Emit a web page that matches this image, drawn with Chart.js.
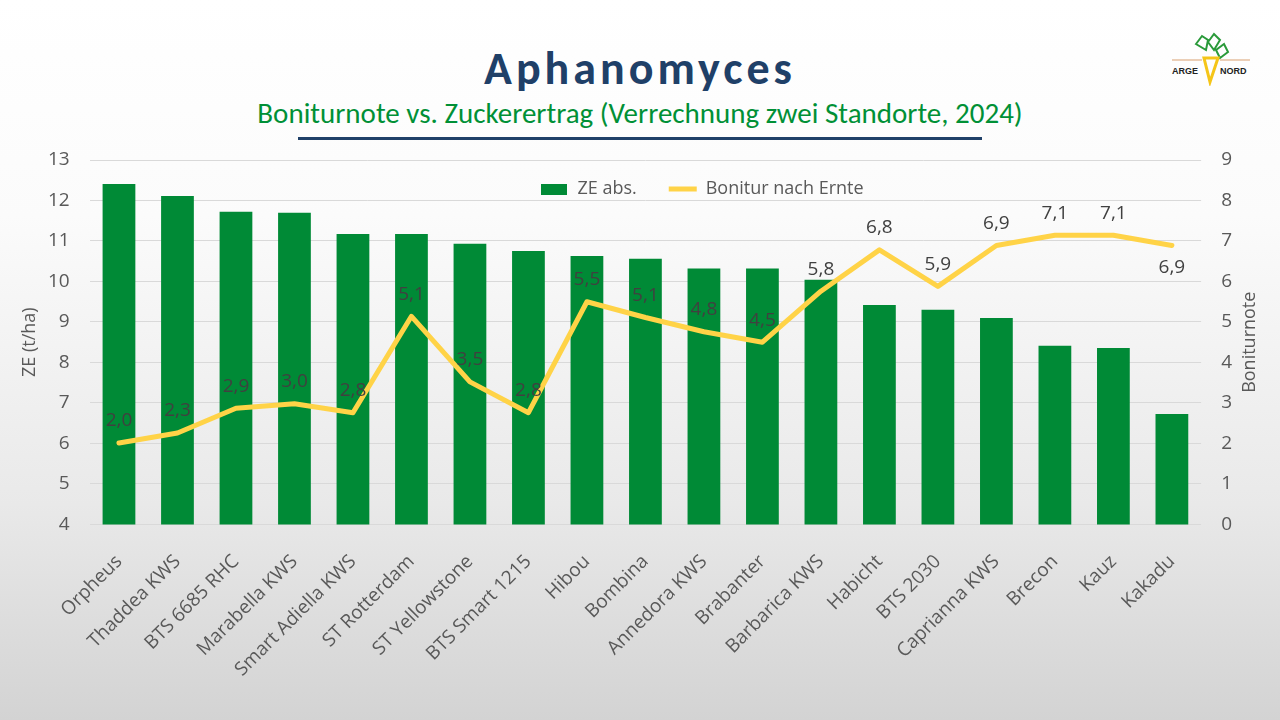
<!DOCTYPE html>
<html lang="de">
<head>
<meta charset="utf-8">
<title>Aphanomyces</title>
<script src="https://cdn.jsdelivr.net/npm/chart.js@4/dist/chart.umd.min.js"></script>
<style>
  html, body { margin: 0; padding: 0; }
  body { width: 1280px; height: 720px; overflow: hidden; }
  .folie {
    position: relative; width: 1280px; height: 720px;
    background: linear-gradient(to bottom, #ffffff 0%, #fbfbfb 30%, #e9e9e9 70%, #d3d3d3 100%);
    font-family: Carlito, Calibri, Lato, sans-serif;
  }
  .titel {
    position: absolute; left: 0; width: 1280px; top: 40px; text-align: center;
    font-size: 46px; font-weight: bold; color: #1f4068; letter-spacing: 4px;
  }
  .untertitel {
    position: absolute; left: 0; width: 1280px; top: 95px; text-align: center;
    font-size: 29px; color: #009036;
  }
  .linie { position: absolute; left: 298px; width: 684px; top: 137px; height: 3px; background: #1f4068; }
  .logo { position: absolute; left: 1168px; top: 30px; width: 86px; height: 56px; }
  .diagramm { position: absolute; left: 0; top: 100px; width: 1280px; height: 620px; }
</style>
</head>
<body>
<div class="folie">
  <div class="titel">Aphanomyces</div>
  <div class="untertitel">Boniturnote vs. Zuckerertrag (Verrechnung zwei Standorte, 2024)</div>
  <div class="linie"></div>
  <svg class="logo" viewBox="0 0 86 56">
    <path d="M28 14 L34 6 L40 10 L38 20 Z M40 12 L46 4 L52 10 L46 20 Z M48 20 L56 14 L60 22 L52 28 Z" fill="none" stroke="#2a9a3a" stroke-width="2"/>
    <path d="M36 28 L50 28 L42 52 Z" fill="none" stroke="#f5c518" stroke-width="3"/>
    <line x1="4" y1="30" x2="34" y2="30" stroke="#d9a070" stroke-width="1"/>
    <line x1="52" y1="30" x2="82" y2="30" stroke="#d9a070" stroke-width="1"/>
    <text x="4" y="44" font-size="9" font-weight="bold" fill="#222" font-family="Liberation Sans, sans-serif">ARGE</text>
    <text x="52" y="44" font-size="9" font-weight="bold" fill="#222" font-family="Liberation Sans, sans-serif">NORD</text>
  </svg>
  <div class="diagramm"><canvas id="graphique"></canvas></div>
</div>

<script>
// Sorten (Kategorien)
const sorten = ["Orpheus", "Thaddea KWS", "BTS 6685 RHC", "Marabella KWS", "Smart Adiella KWS",
  "ST Rotterdam", "ST Yellowstone", "BTS Smart 1215", "Hibou", "Bombina", "Annedora KWS",
  "Brabanter", "Barbarica KWS", "Habicht", "BTS 2030", "Caprianna KWS", "Brecon", "Kauz", "Kakadu"];
// Zuckerertrag absolut (t/ha)
const zeAbs = [12.41, 12.11, 11.72, 11.70, 11.17, 11.17, 10.93, 10.75, 10.63, 10.56, 10.32,
  10.32, 10.04, 9.42, 9.30, 9.10, 8.41, 8.36, 6.73];
// Bonitur nach Ernte
const bonitur = [2.01, 2.26, 2.87, 2.98, 2.76, 5.14, 3.52, 2.76, 5.50, 5.11, 4.76,
  4.50, 5.76, 6.78, 5.88, 6.89, 7.14, 7.14, 6.89];
// Achsen
const zeMin = 4, zeMax = 13;
const bonMin = 0, bonMax = 9;

const schrift = "'Open Sans', sans-serif";
const grau = "#595959";

// Legendensymbol für die Balken: flaches Rechteck
const balkenSymbol = document.createElement("canvas");
balkenSymbol.width = 26;
balkenSymbol.height = 11;
const bctx = balkenSymbol.getContext("2d");
bctx.fillStyle = "#008a36";
bctx.fillRect(0, 0, 26, 11);

// Legende in den Diagrammbereich schieben
const legendeVerschieben = {
  id: "legendeVerschieben",
  afterLayout(chart) {
    const lg = chart.legend;
    const dy = chart.chartArea.top - lg.top - 12;
    const dx = 702 - (lg.left + lg.right) / 2;
    lg.top += dy;
    lg.bottom += dy;
    lg.left += dx;
    lg.right += dx;
  }
};

// Werte über/unter den Punkten der Linie, Achsentitel
const boniturWerte = {
  id: "boniturWerte",
  afterDatasetsDraw(chart) {
    const ctx = chart.ctx;
    const meta = chart.getDatasetMeta(1);
    ctx.save();
    ctx.font = "19px " + schrift;
    ctx.fillStyle = "#404040";
    ctx.textAlign = "center";
    ctx.textBaseline = "middle";
    meta.data.forEach((pt, i) => {
      const unten = i === meta.data.length - 1;
      const y = unten ? pt.y + 22 : pt.y - 22;
      ctx.fillText(bonitur[i].toFixed(1).replace(".", ","), pt.x, y);
    });
    ctx.restore();
  },
  afterDraw(chart) {
    const ctx = chart.ctx;
    const mitte = (chart.chartArea.top + chart.chartArea.bottom) / 2;
    ctx.save();
    ctx.font = "18px " + schrift;
    ctx.fillStyle = grau;
    ctx.textAlign = "center";
    ctx.textBaseline = "middle";
    // links: ZE (t/ha)
    ctx.save();
    ctx.translate(30, mitte);
    ctx.rotate(-Math.PI / 2);
    ctx.fillText("ZE (t/ha)", 0, 0);
    ctx.restore();
    // rechts: Boniturnote, von unten nach oben
    ctx.translate(1250, mitte);
    ctx.rotate(-Math.PI / 2);
    ctx.fillText("Boniturnote", 0, 0);
    ctx.restore();
  }
};

const data = {
  labels: sorten,
  datasets: [{
    type: "bar",
    label: "ZE abs.",
    data: zeAbs,
    backgroundColor: "#008a36",
    yAxisID: "y",
    barPercentage: 0.56,
    categoryPercentage: 1,
    pointStyle: balkenSymbol,
    order: 2
  }, {
    type: "line",
    label: "Bonitur nach Ernte",
    data: bonitur,
    borderColor: "#ffd347",
    backgroundColor: "#ffd347",
    borderWidth: 5,
    borderCapStyle: "round",
    borderJoinStyle: "round",
    pointRadius: 0,
    pointStyle: "line",
    tension: 0,
    yAxisID: "y1",
    order: 1
  }]
};

const config = {
  data: data,
  options: {
    responsive: false,
    animation: false,
    layout: { padding: { top: 0, left: 28, right: 28, bottom: 21 } },
    plugins: {
      tooltip: { enabled: false },
      legend: {
        position: "top",
        align: "center",
        labels: {
          usePointStyle: true,
          pointStyleWidth: 28,
          boxHeight: 17,
          padding: 32,
          color: grau,
          font: { family: schrift, size: 18 },
          sort: (a, b) => a.datasetIndex - b.datasetIndex
        }
      }
    },
    scales: {
      x: {
        grid: { display: false },
        border: { display: false },
        ticks: {
          color: grau, font: { family: schrift, size: 19 }, padding: 18,
          minRotation: 45, maxRotation: 45, autoSkip: false
        }
      },
      y: {
        position: "left",
        min: zeMin, max: zeMax,
        ticks: { stepSize: 1, color: grau, font: { family: schrift, size: 19 }, padding: 20 },
        grid: { color: "#d9d9d9", drawTicks: false },
        border: { display: false }
      },
      y1: {
        position: "right",
        min: bonMin, max: bonMax,
        ticks: { stepSize: 1, color: grau, font: { family: schrift, size: 19 }, padding: 20 },
        grid: { drawOnChartArea: false, drawTicks: false },
        border: { display: false }
      }
    }
  },
  plugins: [legendeVerschieben, boniturWerte]
};

const canvas = document.querySelector("#graphique");
canvas.width = 1280;
canvas.height = 620;
const graphique = new Chart(canvas, config);
</script>
</body>
</html>
